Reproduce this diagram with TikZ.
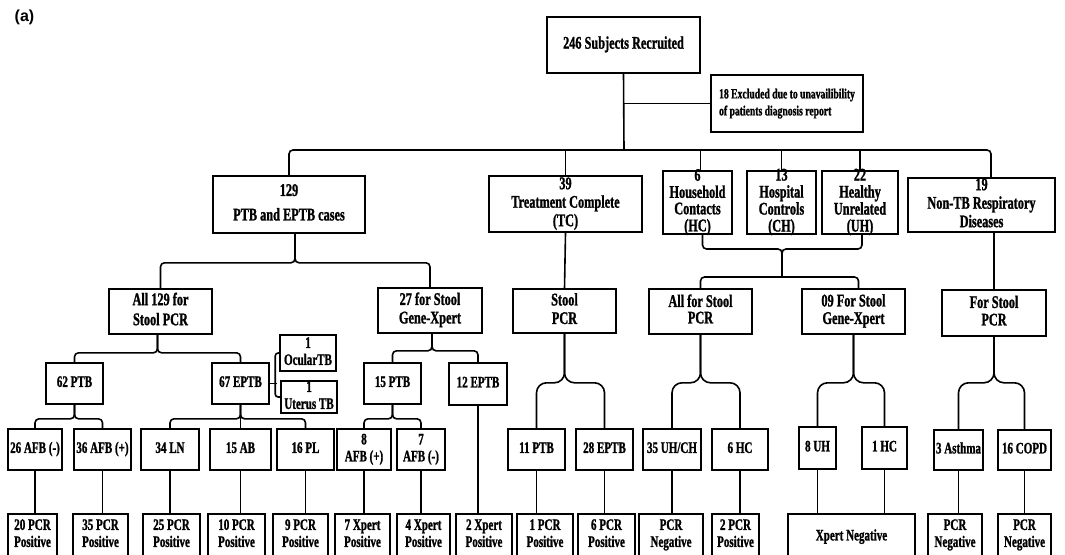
\documentclass[tikz,border=0pt]{standalone}
\usepackage{fontspec}
\setmainfont{Liberation Serif}[FakeStretch=0.69, BoldFeatures={FakeBold=1.2}]
\newfontfamily\labfont{Liberation Sans}
\usetikzlibrary{calc}
\tikzset{
  box/.style={draw, line width=1.6pt, inner sep=0pt,
    font=\bfseries\fontsize{16}{17}\selectfont},
  bigbox/.style={box, font=\bfseries\fontsize{17.8}{18.5}\selectfont},
  tallbox/.style={box, font=\bfseries\fontsize{17.8}{15.5}\selectfont},
  conn/.style={line width=1.6pt, rounded corners=4pt},
  cusp/.style={line width=1.6pt, rounded corners=4pt},
  bigcusp/.style={line width=1.6pt, rounded corners=10pt},
}
\newcommand\ctext[2][c]{\vbox to 0pt{\vss\hbox to 0pt{\hss\begin{tabular}{@{}#1@{}}#2\end{tabular}\hss}\vss}}
\newcommand\bx[7][]{\node[box,#1,minimum width={#5-#3},minimum height={#6-#4}] (#2) at ({(#3+#5)/2},{(#4+#6)/2}) {\ctext{#7}};}
\begin{document}
\begin{tikzpicture}[x=1pt,y=-1pt]
\useasboundingbox (0,0) rectangle (1065,554);
\clip (0,0) rectangle (1065,554);

\node[font=\labfont\bfseries\fontsize{16}{16}\selectfont, inner sep=0pt] (lab) at (24.5,17.5) {(a)};

% top
\bx[bigbox]{top}{547}{17}{700}{73}{246 Subjects Recruited}
\node[box, font=\bfseries\fontsize{14}{17}\selectfont, minimum width=152, minimum height=57] (excl) at (787,103.5)
  {\ctext[l]{18 Excluded due to unavailibility\\of patients diagnosis report}};

% row 2
\bx[bigbox]{p129}{213}{176}{365}{233}{129\\[6pt]PTB and EPTB cases}
\bx[bigbox]{tc}{489}{176}{642}{232}{39\\Treatment Complete\\(TC)}
\bx[tallbox]{hc}{663}{171}{732}{234}{6\\Household\\Contacts\\(HC)}
\bx[tallbox]{ch}{747}{171}{816}{234}{13\\Hospital\\Controls\\(CH)}
\bx[tallbox]{uh}{822}{171}{898}{234}{22\\Healthy\\Unrelated\\(UH)}
\bx[bigbox]{ntb}{908}{178}{1055}{232}{19\\Non-TB Respiratory\\Diseases}

% row 3
\bx[bigbox]{all129}{109}{289}{212}{334}{All 129 for\\[1.5pt]Stool PCR}
\bx[bigbox]{s27}{378}{288}{482}{333}{27 for Stool\\Gene-Xpert}
\bx[bigbox]{stool}{513}{289}{616}{333}{Stool\\PCR}
\bx[bigbox]{allst}{649}{289}{752}{334}{All for Stool\\[-2pt]PCR}
\bx[bigbox]{s09}{802}{289}{905}{334}{09 For Stool\\[-1pt]Gene-Xpert}
\bx[bigbox]{fsp}{942}{290}{1046}{336}{For Stool\\[-1pt]PCR}

% row 3b
\bx{ptb62}{46}{363}{103}{404}{62 PTB}
\bx{eptb67}{212}{363}{269}{404}{67 EPTB}
\bx{ocu}{280}{335}{336}{371}{1\\OcularTB}
\bx{ute}{281}{381}{337}{413}{1\\Uterus TB}
\bx{ptb15}{364}{363}{421}{404}{15 PTB}
\bx{eptb12}{449}{363}{507}{405}{12 EPTB}

% row 4
\bx{afbn26}{8}{429}{62}{470}{26 AFB (-)}
\bx{afbp36}{74}{429}{131}{470}{36 AFB (+)}
\bx{ln34}{141}{429}{199}{470}{34 LN}
\bx{ab15}{210}{429}{271}{470}{15 AB}
\bx{pl16}{277}{429}{334}{470}{16 PL}
\bx{afbp8}{337}{429}{391}{470}{8\\AFB (+)}
\bx{afbn7}{397}{429}{445}{470}{7\\AFB (-)}
\bx{ptb11}{508}{429}{565}{470}{11 PTB}
\bx{eptb28}{576}{429}{633}{470}{28 EPTB}
\bx{uhch35}{643}{429}{701}{470}{35 UH/CH}
\bx{hc6}{712}{429}{768}{470}{6 HC}
\bx{uh8}{799}{427}{836}{469}{8 UH}
\bx{hc1}{862}{427}{907}{469}{1 HC}
\bx{asth}{934}{430}{983}{470}{3 Asthma}
\bx{copd}{998}{430}{1051}{470}{16 COPD}

% row 5
\bx{b20}{8}{514}{57}{556}{20 PCR\\Positive}
\bx{b35}{73}{514}{128}{556}{35 PCR\\Positive}
\bx{b25}{143}{514}{200}{556}{25 PCR\\Positive}
\bx{b10}{208}{514}{265}{556}{10 PCR\\Positive}
\bx{b9}{273}{514}{328}{556}{9 PCR\\Positive}
\bx{b7x}{335}{514}{390}{556}{7 Xpert\\Positive}
\bx{b4x}{397}{514}{450}{556}{4 Xpert\\Positive}
\bx{b2x}{456}{514}{512}{556}{2 Xpert\\Positive}
\bx{b1p}{517}{514}{573}{556}{1 PCR\\Positive}
\bx{b6p}{578}{514}{635}{556}{6 PCR\\Positive}
\bx{bn1}{639}{514}{703}{556}{PCR\\Negative}
\bx{b2p}{712}{514}{759}{556}{2 PCR\\Positive}
\bx{xneg}{788}{514}{915}{560}{Xpert Negative}
\bx{bn2}{928}{514}{982}{556}{PCR\\Negative}
\bx{bn3}{998}{514}{1051}{556}{PCR\\Negative}

% connectors: top
\coordinate (bus) at (624,150);
\draw[conn] (top.south) -- (bus);
\draw[conn] (top.south |- excl.west) -- (excl.west);
\draw[conn] (p129.north) |- (bus) -| ([xshift=9.5pt]ntb.north);
\foreach \n in {tc,ch,uh} \draw[conn] (\n.north) -- (\n.north |- bus);
\draw[conn] ([xshift=3pt]hc.north) -- ([xshift=3pt]hc.north |- bus);

% HC/CH/UH bracket
\coordinate (brc) at (782,249);
\coordinate (bus2) at (782,277);
\draw[cusp] ([xshift=5pt]hc.south) |- (brc) -- (bus2);
\draw[cusp] ([xshift=2pt]uh.south) |- (brc) -- (bus2);
\draw[conn] (allst.north) |- (bus2) -| ([xshift=5pt]s09.north);

% 129 split
\coordinate (c129) at ($(p129.south)+(6,29)$);
\draw[cusp] ([xshift=6pt]p129.south) -- (c129) -| (all129.north);
\draw[cusp] ([xshift=6pt]p129.south) -- (c129) -| (s27.north);

% all129 split
\coordinate (ca) at ($(all129.south)+(-3,18)$);
\draw[cusp] ([xshift=-3pt]all129.south) -- (ca) -| (ptb62.north);
\draw[cusp] ([xshift=-3pt]all129.south) -- (ca) -| (eptb67.north);

% s27 split
\coordinate (cb) at ($(s27.south)+(2,17)$);
\draw[cusp] ([xshift=2pt]s27.south) -- (cb) -| (ptb15.north);
\draw[cusp] ([xshift=2pt]s27.south) -- (cb) -| (eptb12.north);

% ptb62 split
\coordinate (cc) at ($(ptb62.south)+(0,14)$);
\draw[cusp] (ptb62.south) -- (cc) -| (afbn26.north);
\draw[cusp] (ptb62.south) -- (cc) -| (afbp36.north);

% eptb67 split
\coordinate (cd) at ($(eptb67.south)+(0,14)$);
\draw[cusp] (eptb67.south) -- (cd) -| (ln34.north);
\draw[cusp] (eptb67.south) -- (cd) -| (pl16.north);
\draw[conn] (eptb67.south) -- (ab15.north);

% ptb15 split
\coordinate (ce) at ($(ptb15.south)+(0,14)$);
\draw[cusp] (ptb15.south) -- (ce) -| (afbp8.north);
\draw[cusp] (ptb15.south) -- (ce) -| (afbn7.north);

% ocular / uterus brace
\draw[line width=1.6pt, rounded corners=3pt] (ocu.west) -- ++(-4,0) |- (ute.west);
\draw[conn] (eptb67.east) -- ($(eptb67.east)+(7,0)$);

% big cusps
\coordinate (cs) at ($(stool.south)+(0,49)$);
\draw[bigcusp] (stool.south) -- (cs) -| (ptb11.north);
\draw[bigcusp] (stool.south) -- (cs) -| (eptb28.north);
\coordinate (ct) at ($(allst.south)+(0,48)$);
\draw[bigcusp] (allst.south) -- (ct) -| (uhch35.north);
\draw[bigcusp] (allst.south) -- (ct) -| (hc6.north);
\coordinate (cu) at ($(s09.south)+(0,48)$);
\draw[bigcusp] (s09.south) -- (cu) -| (uh8.north);
\draw[bigcusp] (s09.south) -- (cu) -| (hc1.north);
\coordinate (cv) at ($(fsp.south)+(0,46)$);
\draw[bigcusp] (fsp.south) -- (cv) -| (asth.north);
\draw[bigcusp] (fsp.south) -- (cv) -| (copd.north);
\draw[conn] (tc.south) -- (stool.north);
\draw[conn] (ntb.south -| fsp.north) -- (fsp.north);

% verticals down to last row
\foreach \a/\b in {afbn26/b20, afbp36/b35, ln34/b25, ab15/b10, pl16/b9,
  afbp8/b7x, afbn7/b4x, eptb12/b2x, ptb11/b1p, eptb28/b6p, uhch35/bn1,
  hc6/b2p, uh8/xneg, hc1/xneg, asth/bn2, copd/bn3}
  \draw[conn] (\a.south) -- (\a.south |- \b.north);
\end{tikzpicture}
\end{document}
